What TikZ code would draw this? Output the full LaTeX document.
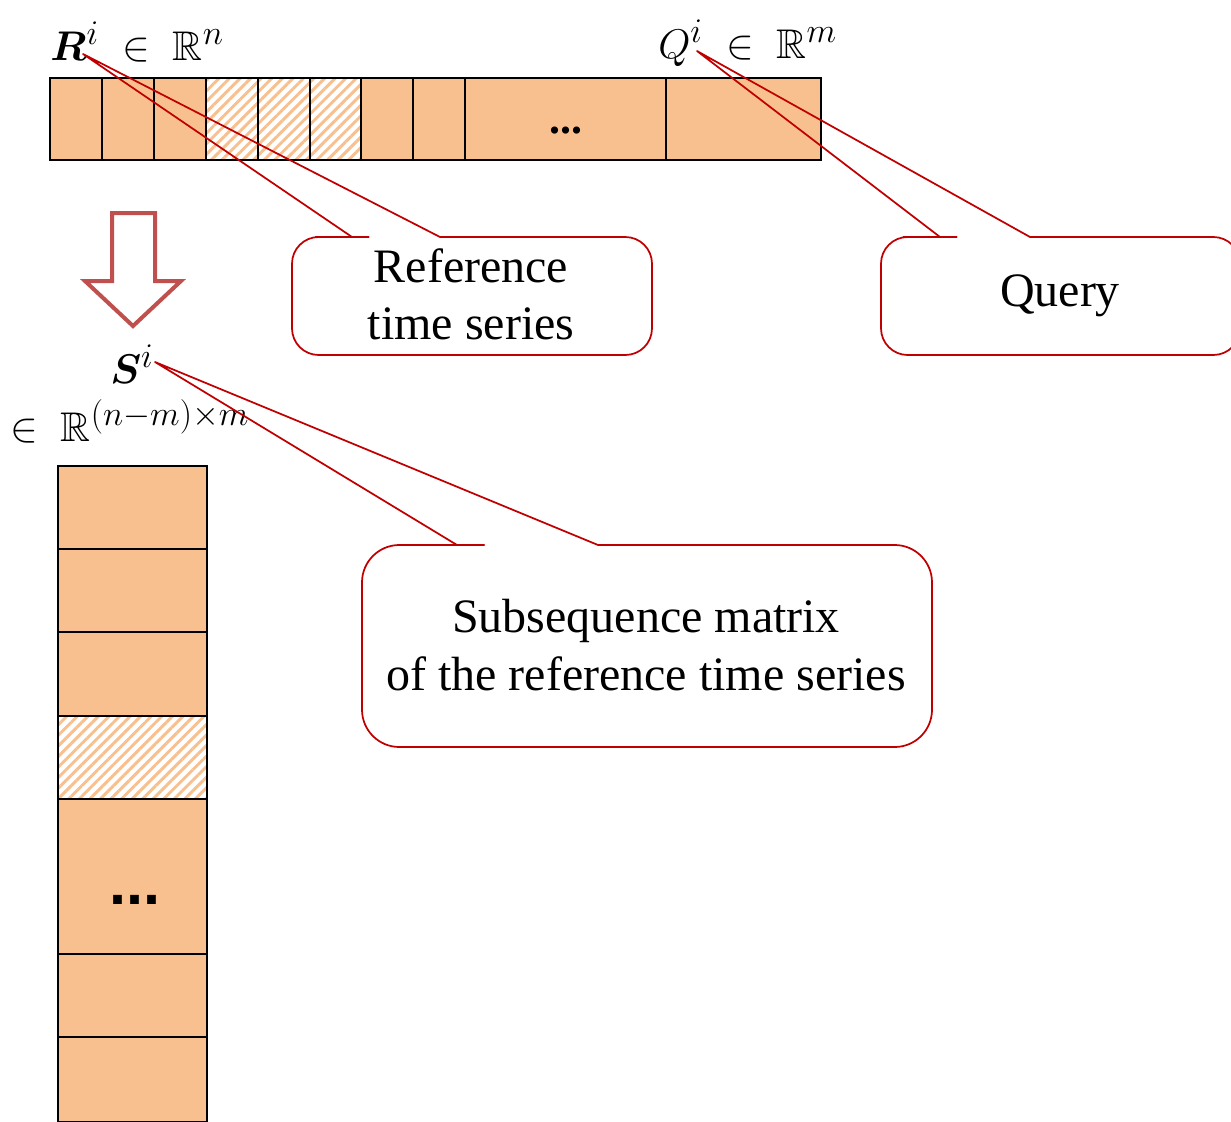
\documentclass[tikz,border=0pt]{standalone}
\usepackage{amsmath,amssymb,bm}
\usepackage{fontspec}
\setmainfont{Liberation Serif}
\newfontfamily\dotsans{Liberation Sans}
\DeclareMathSizes{20.74}{20.74}{17.28}{12}
\usetikzlibrary{patterns.meta}
\definecolor{peach}{RGB}{248,192,143}
\definecolor{cred}{RGB}{192,0,0}
\definecolor{arrowred}{RGB}{192,80,77}
\newcommand{\bigmath}[1]{\scalebox{1.5}{\fontsize{20.74}{25}\selectfont$#1$}}
\tikzset{
  cell/.style={draw=black, line width=1.8pt, fill=peach},
  hatchcell/.style={draw=black, line width=1.8pt, preaction={fill=white},
     pattern={Lines[angle=45,distance=5.6pt,line width=2.2pt]}, pattern color=peach},
  callout/.style={draw=cred, line width=1.3pt, line join=round},
  ctext/.style={font=\fontsize{36}{43}\selectfont, align=center, inner sep=0pt},
  mlabel/.style={inner sep=0pt},
  blockarrow/.style={draw=arrowred, line width=3pt, line join=miter, fill=white}
}
\begin{document}
\begin{tikzpicture}[x=0.75pt,y=-0.75pt]
\useasboundingbox (0,0) rectangle (1231,1121);
\clip (0,0) rectangle (1231,1121);

% top bar (reference time series)
\draw[cell] (50,78) rectangle (102,160);
\draw[cell] (102,78) rectangle (154,160);
\draw[cell] (154,78) rectangle (206,160);
\draw[hatchcell] (206,78) rectangle (258,160);
\draw[hatchcell] (258,78) rectangle (310,160);
\draw[hatchcell] (310,78) rectangle (361,160);
\draw[cell] (361,78) rectangle (413,160);
\draw[cell] (413,78) rectangle (465,160);
\draw[cell] (465,78) rectangle (666,160);
\draw[cell] (666,78) rectangle (821,160);
\node[inner sep=0pt, font=\fontsize{33}{33}\selectfont\bfseries] (topdots) at (566,131) {...};

% subsequence matrix column
\draw[cell] (58,466) rectangle (207,549);
\draw[cell] (58,549) rectangle (207,632);
\draw[cell] (58,632) rectangle (207,716);
\draw[hatchcell] (58,716) rectangle (207,799);
\draw[cell] (58,799) rectangle (207,954);
\draw[cell] (58,954) rectangle (207,1037);
\draw[cell] (58,1037) rectangle (207,1122);
\node[inner sep=0pt, font=\fontsize{46}{46}\selectfont\dotsans\bfseries] (coldots) at (135,900) {...};

% math labels
\node[mlabel, anchor=base west] (Rlab) at (50,60) {\bigmath{\boldsymbol{R}^{i}\;\in\;\mathbb{R}^{n}}};
\node[mlabel, anchor=base west] (Qlab) at (658,58) {\bigmath{Q^{i}\;\in\;\mathbb{R}^{m}}};
\node[mlabel, anchor=base west] (Slab) at (110,383) {\bigmath{\boldsymbol{S}^{i}}};
\node[mlabel, anchor=base west] (Sdim) at (10,441) {\bigmath{\in\;\mathbb{R}^{(n-m)\times m}}};

% block arrow
\draw[blockarrow] (112,213) -- (155,213) -- (155,281) -- (181,281) -- (133,326)
   -- (85,281) -- (112,281) -- cycle;

% tips of callout pointers
\coordinate (Rtip) at (83,54);
\coordinate (Qtip) at (697,51);
\coordinate (Stip) at (155,362);

% callout: reference time series
\draw[callout, rounded corners=20] (292,296) -- (292,237) -- (342,237) [sharp corners] -- (352,237)
   -- (Rtip) -- (440,237) -- (450,237) [rounded corners=20] -- (652,237) -- (652,355) -- (292,355) -- cycle;
\node[ctext] (reftext) at (471,294) {Reference\\time series};

% callout: query
\draw[callout, rounded corners=20] (881,296) -- (881,237) -- (930,237) [sharp corners] -- (940,237)
   -- (Qtip) -- (1030,237) -- (1040,237) [rounded corners=20] -- (1240,237) -- (1240,355) -- (881,355) -- cycle;
\node[ctext] (qtext) at (1060,296) {Query};

% callout: subsequence matrix
\draw[callout, rounded corners=28] (362,646) -- (362,545) -- (447,545) [sharp corners] -- (457,545)
   -- (Stip) -- (598,545) -- (608,545) [rounded corners=28] -- (932,545) -- (932,747) -- (362,747) -- cycle;
\node[ctext] (stext) at (646,645) {Subsequence matrix\\of the reference time series};
\end{tikzpicture}
\end{document}
